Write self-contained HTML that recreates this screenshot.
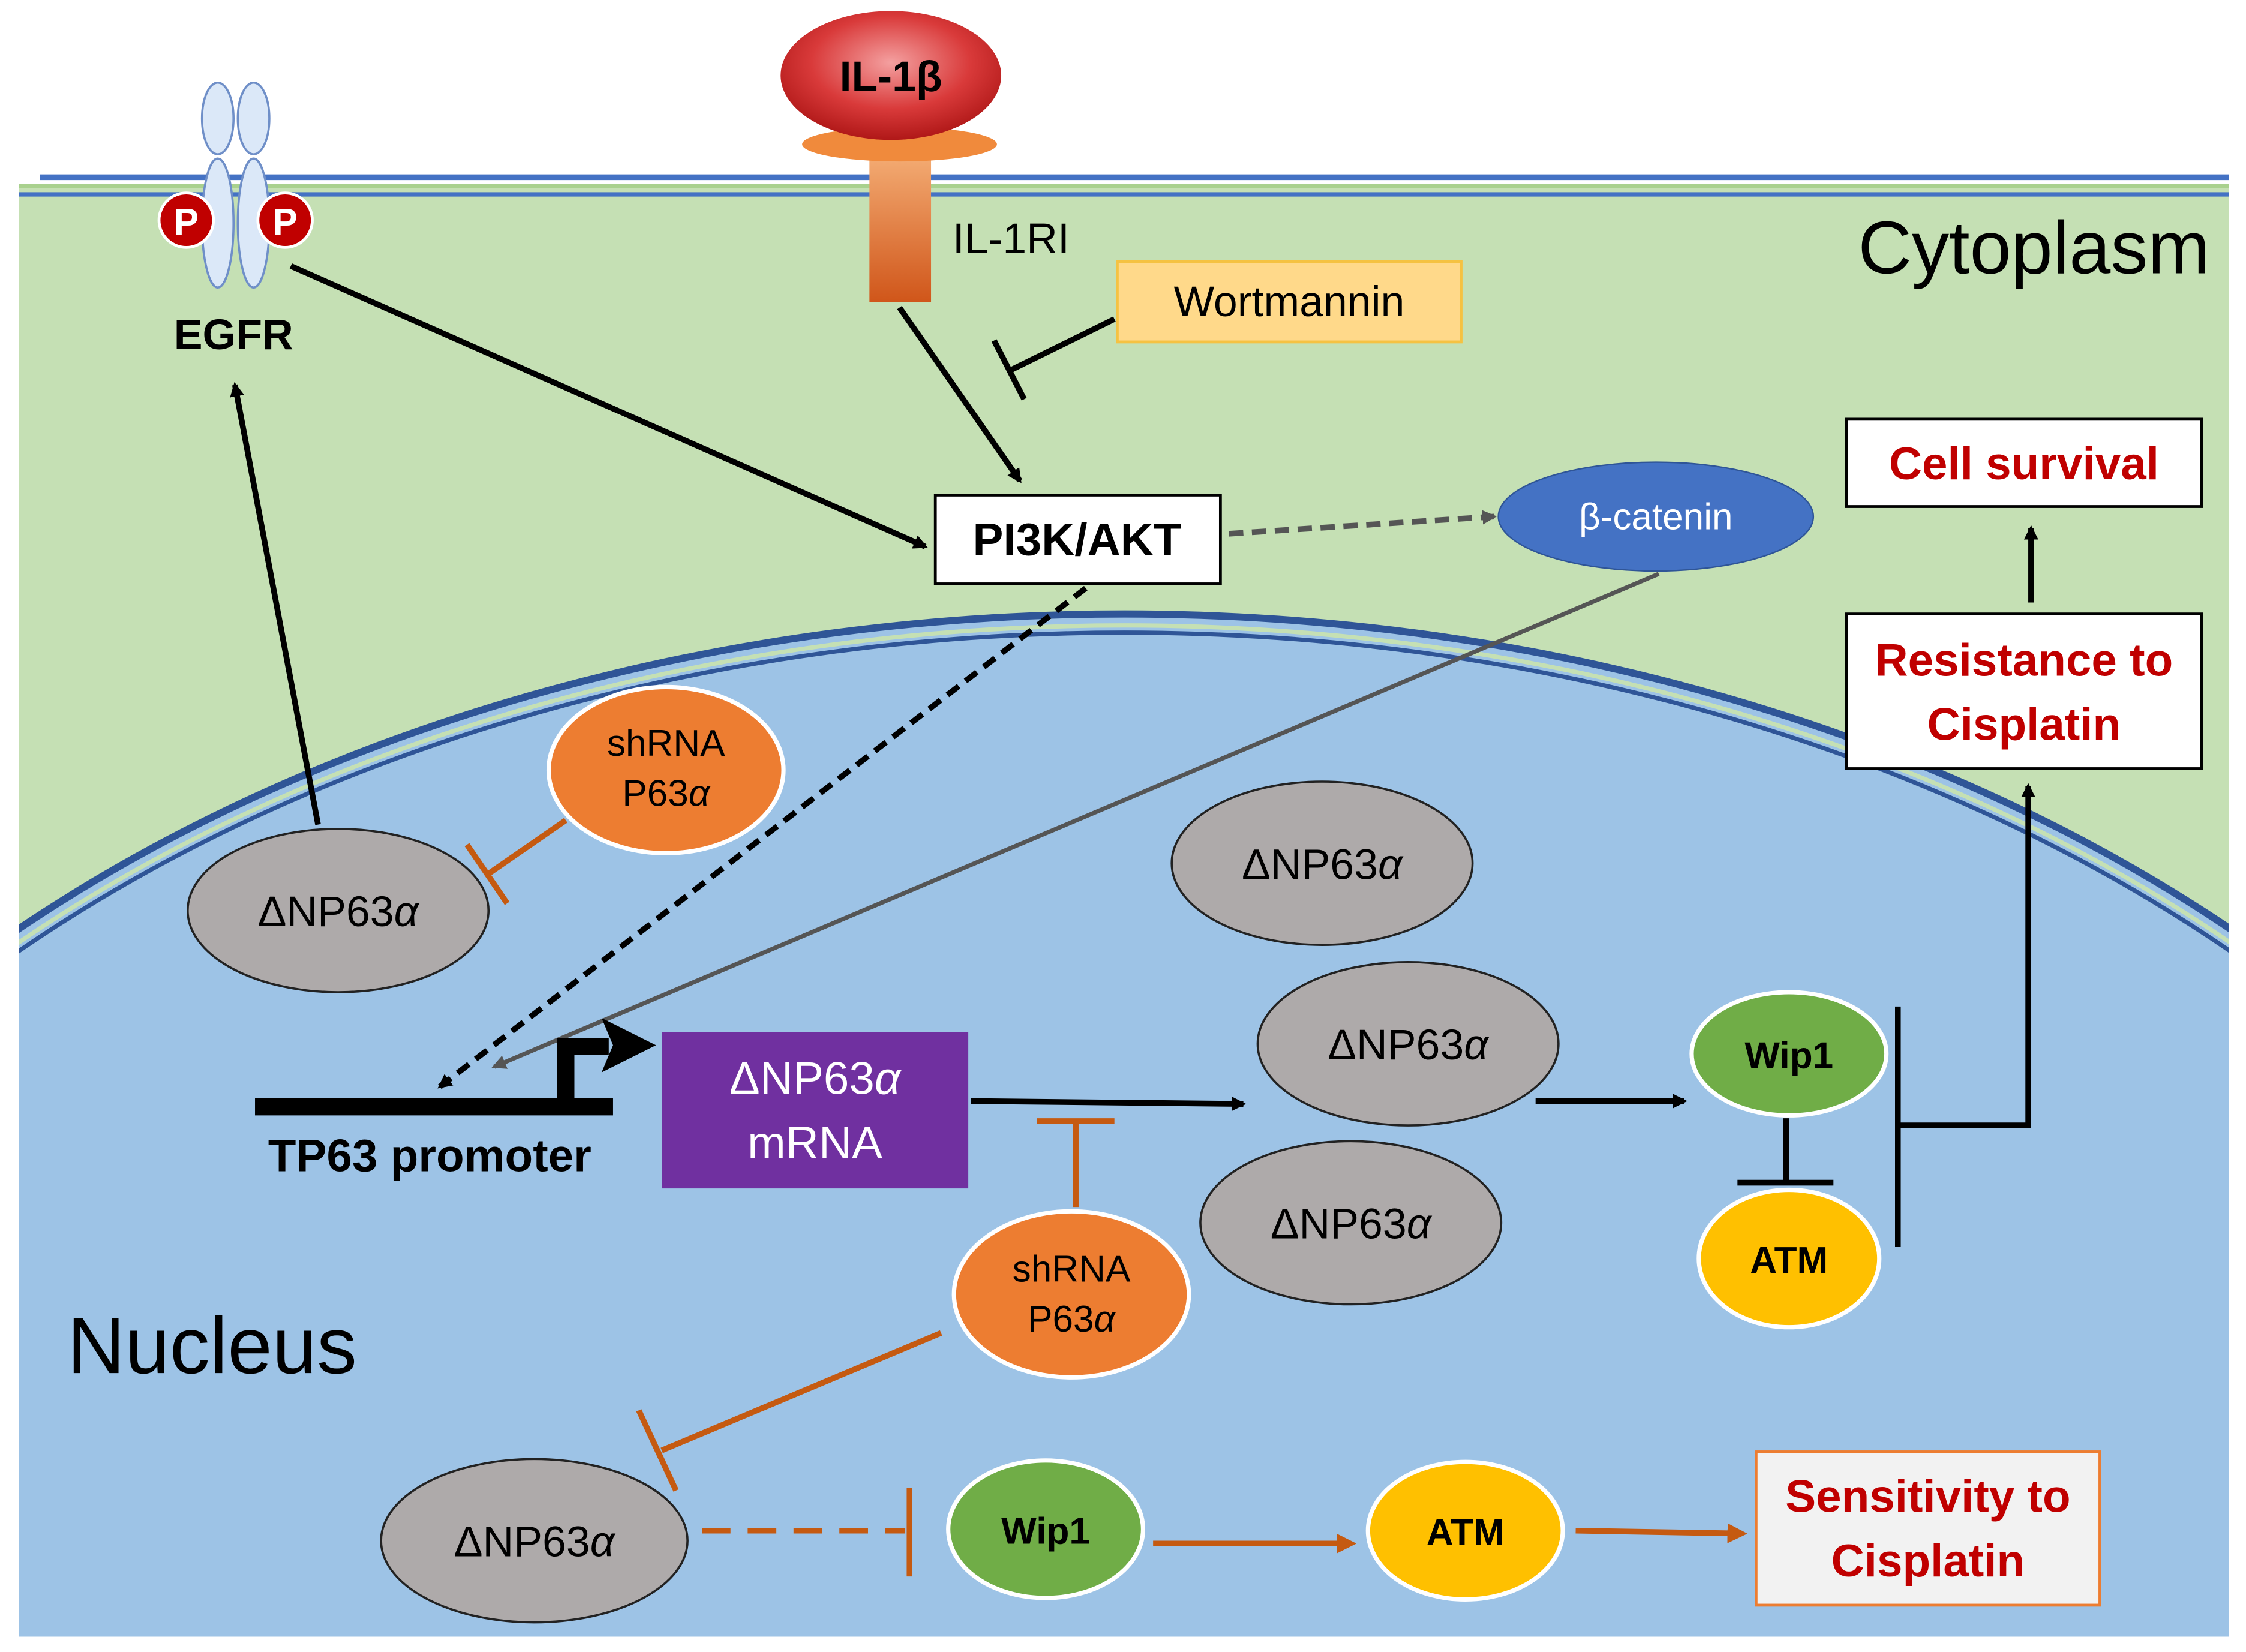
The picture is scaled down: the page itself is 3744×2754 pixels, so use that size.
<!DOCTYPE html>
<html><head><meta charset="utf-8"><style>html,body{margin:0;padding:0;background:#fff;width:3744px;height:2754px;overflow:hidden;position:relative}svg{display:block;position:absolute;left:0;top:0}text{font-family:"Liberation Sans",sans-serif}</style></head><body>
<svg width="3744" height="2754" viewBox="0 0 1568 1152" xmlns="http://www.w3.org/2000/svg">
<defs>
<radialGradient id="ilg" cx="50%" cy="40%" r="60%"><stop offset="0" stop-color="#f4a0a0"/><stop offset="0.6" stop-color="#d93a3a"/><stop offset="1" stop-color="#b01818"/></radialGradient>
<linearGradient id="stem" x1="0" y1="0" x2="0" y2="1"><stop offset="0" stop-color="#f6b27a"/><stop offset="1" stop-color="#d0561a"/></linearGradient>
<clipPath id="cl"><rect x="13" y="130" width="1543" height="1012"/></clipPath>
<marker id="ab" markerWidth="10" markerHeight="10" refX="8" refY="5" orient="auto" markerUnits="userSpaceOnUse" viewBox="0 0 10 10"><path d="M0,0 L10,5 L0,10 z" fill="#000"/></marker>
<marker id="ag" markerWidth="10" markerHeight="10" refX="8" refY="5" orient="auto" markerUnits="userSpaceOnUse" viewBox="0 0 10 10"><path d="M0,0 L10,5 L0,10 z" fill="#555"/></marker>
<marker id="ao" markerWidth="14" markerHeight="14" refX="10" refY="7" orient="auto" markerUnits="userSpaceOnUse" viewBox="0 0 14 14"><path d="M0,0 L14,7 L0,14 z" fill="#c55a11"/></marker>
</defs>
<rect x="13" y="130" width="1543" height="1012" fill="#c5e0b4"/>
<line x1="28" y1="123" x2="1556" y2="123" stroke="#4472c4" stroke-width="4"/>
<line x1="13" y1="129" x2="1556" y2="129" stroke="#a9d18e" stroke-width="3"/>
<line x1="13" y1="135" x2="1556" y2="135" stroke="#4472c4" stroke-width="3"/>
<g clip-path="url(#cl)">
<ellipse cx="785" cy="1243" rx="1130" ry="815" fill="#9dc3e6" stroke="#2f5597" stroke-width="5"/>
<ellipse cx="785" cy="1243" rx="1122" ry="807" fill="none" stroke="#c5e0b4" stroke-width="3"/>
<ellipse cx="785" cy="1243" rx="1117" ry="802" fill="none" stroke="#2f5597" stroke-width="3"/>
</g>
<g fill="#dbe8f8" stroke="#6f8fc8" stroke-width="1.5">
<ellipse cx="152" cy="82" rx="11" ry="25"/><ellipse cx="177" cy="82" rx="11" ry="25"/>
<ellipse cx="152" cy="155" rx="11" ry="45"/><ellipse cx="177" cy="155" rx="11" ry="45"/>
</g>
<circle cx="130" cy="153" r="19" fill="#c00000" stroke="#fff" stroke-width="2"/><text x="130" y="163" font-size="26" fill="#fff" text-anchor="middle" font-weight="bold">P</text>
<circle cx="199" cy="153" r="19" fill="#c00000" stroke="#fff" stroke-width="2"/><text x="199" y="163" font-size="26" fill="#fff" text-anchor="middle" font-weight="bold">P</text>
<text x="163" y="243" font-size="30" font-weight="bold" text-anchor="middle">EGFR</text>
<rect x="607" y="100" width="43" height="110" fill="url(#stem)"/>
<ellipse cx="628" cy="100" rx="68" ry="12" fill="#f08a3c"/>
<ellipse cx="622" cy="52" rx="77" ry="45" fill="url(#ilg)"/>
<text x="622" y="63" font-size="30" font-weight="bold" text-anchor="middle">IL-1β</text>
<text x="665" y="176" font-size="30">IL-1RI</text>
<text x="1420" y="190" font-size="52" text-anchor="middle">Cytoplasm</text>
<rect x="780" y="182" width="240" height="56" fill="#ffd98a" stroke="#f5c242" stroke-width="2"/>
<text x="900" y="220" font-size="30" text-anchor="middle">Wortmannin</text>
<line x1="778" y1="222" x2="705" y2="258" stroke="#000" stroke-width="4"/>
<line x1="694" y1="237" x2="715" y2="278" stroke="#000" stroke-width="4"/>
<line x1="628" y1="214" x2="712" y2="335" stroke="#000" stroke-width="4" marker-end="url(#ab)"/>
<line x1="203" y1="185" x2="646" y2="381" stroke="#000" stroke-width="4" marker-end="url(#ab)"/>
<rect x="653" y="345" width="199" height="62" fill="#fff" stroke="#000" stroke-width="2"/>
<text x="752" y="387" font-size="32" font-weight="bold" text-anchor="middle">PI3K/AKT</text>
<line x1="858" y1="372" x2="1043" y2="360" stroke="#555" stroke-width="4" stroke-dasharray="10,6" marker-end="url(#ag)"/>
<ellipse cx="1156" cy="360" rx="110" ry="38" fill="#4472c4" stroke="#2f5597"/>
<text x="1156" y="369" font-size="26" fill="#fff" text-anchor="middle">β-catenin</text>
<rect x="1289" y="292" width="248" height="61" fill="#fff" stroke="#000" stroke-width="2"/>
<text x="1413" y="334" font-size="32" font-weight="bold" fill="#c00000" text-anchor="middle">Cell survival</text>
<line x1="1418" y1="420" x2="1418" y2="368" stroke="#000" stroke-width="4" marker-end="url(#ab)"/>
<rect x="1289" y="428" width="248" height="108" fill="#fff" stroke="#000" stroke-width="2"/>
<text x="1413" y="471" font-size="32" font-weight="bold" fill="#c00000" text-anchor="middle">Resistance to</text>
<text x="1413" y="516" font-size="32" font-weight="bold" fill="#c00000" text-anchor="middle">Cisplatin</text>
<line x1="1158" y1="400" x2="345" y2="744" stroke="#555" stroke-width="3" marker-end="url(#ag)"/>
<line x1="758" y1="410" x2="307" y2="758" stroke="#000" stroke-width="4" stroke-dasharray="10,6" marker-end="url(#ab)"/>
<line x1="222" y1="575" x2="164" y2="268" stroke="#000" stroke-width="4" marker-end="url(#ab)"/>
<g fill="#aeaaaa" stroke="#222" stroke-width="1.5">
<ellipse cx="236" cy="635" rx="105" ry="57"/>
<ellipse cx="923" cy="602" rx="105" ry="57"/>
<ellipse cx="983" cy="728" rx="105" ry="57"/>
<ellipse cx="943" cy="853" rx="105" ry="57"/>
<ellipse cx="373" cy="1075" rx="107" ry="57"/>
</g>
<g font-size="30" text-anchor="middle">
<text x="236" y="646">ΔNP63<tspan font-style="italic">α</tspan></text>
<text x="923" y="613">ΔNP63<tspan font-style="italic">α</tspan></text>
<text x="983" y="739">ΔNP63<tspan font-style="italic">α</tspan></text>
<text x="943" y="864">ΔNP63<tspan font-style="italic">α</tspan></text>
<text x="373" y="1086">ΔNP63<tspan font-style="italic">α</tspan></text>
</g>
<line x1="395" y1="572" x2="340" y2="610" stroke="#c55a11" stroke-width="4"/>
<line x1="326" y1="589" x2="354" y2="630" stroke="#c55a11" stroke-width="4"/>
<ellipse cx="465" cy="537" rx="82" ry="58" fill="#ed7d31" stroke="#fff" stroke-width="3"/>
<text x="465" y="527" font-size="26" text-anchor="middle">shRNA</text>
<text x="465" y="562" font-size="26" text-anchor="middle">P63<tspan font-style="italic">α</tspan></text>
<line x1="178" y1="772" x2="428" y2="772" stroke="#000" stroke-width="12"/>
<path d="M395,770 L395,730 L425,730" fill="none" stroke="#000" stroke-width="12"/>
<polygon points="420,710 458,729 420,748 428,729" fill="#000"/>
<text x="300" y="817" font-size="32" font-weight="bold" text-anchor="middle">TP63 promoter</text>
<rect x="462" y="720" width="214" height="109" fill="#7030a0"/>
<text x="569" y="763" font-size="32" fill="#fff" text-anchor="middle">ΔNP63<tspan font-style="italic">α</tspan></text>
<text x="569" y="808" font-size="32" fill="#fff" text-anchor="middle">mRNA</text>
<line x1="678" y1="768" x2="868" y2="770" stroke="#000" stroke-width="4" marker-end="url(#ab)"/>
<line x1="751" y1="842" x2="751" y2="782" stroke="#c55a11" stroke-width="4"/>
<line x1="724" y1="782" x2="778" y2="782" stroke="#c55a11" stroke-width="4"/>
<line x1="1072" y1="768" x2="1176" y2="768" stroke="#000" stroke-width="4" marker-end="url(#ab)"/>
<ellipse cx="1249" cy="735" rx="68" ry="43" fill="#70ad47" stroke="#fff" stroke-width="3"/>
<text x="1249" y="745" font-size="26" font-weight="bold" text-anchor="middle">Wip1</text>
<ellipse cx="1249" cy="878" rx="63" ry="48" fill="#ffc000" stroke="#fff" stroke-width="3"/>
<text x="1249" y="888" font-size="26" font-weight="bold" text-anchor="middle">ATM</text>
<line x1="1247" y1="780" x2="1247" y2="825" stroke="#000" stroke-width="4"/>
<line x1="1213" y1="825" x2="1280" y2="825" stroke="#000" stroke-width="4"/>
<line x1="1325" y1="702" x2="1325" y2="870" stroke="#000" stroke-width="4"/>
<path d="M1325,785 L1416,785 L1416,548" fill="none" stroke="#000" stroke-width="4" marker-end="url(#ab)"/>
<ellipse cx="748" cy="903" rx="82" ry="58" fill="#ed7d31" stroke="#fff" stroke-width="3"/>
<text x="748" y="894" font-size="26" text-anchor="middle">shRNA</text>
<text x="748" y="929" font-size="26" text-anchor="middle">P63<tspan font-style="italic">α</tspan></text>
<text x="148" y="958" font-size="56" text-anchor="middle">Nucleus</text>
<line x1="657" y1="930" x2="462" y2="1012" stroke="#c55a11" stroke-width="4"/>
<line x1="446" y1="984" x2="472" y2="1040" stroke="#c55a11" stroke-width="4"/>
<line x1="490" y1="1068" x2="632" y2="1068" stroke="#c55a11" stroke-width="4" stroke-dasharray="20,12"/>
<line x1="635" y1="1038" x2="635" y2="1100" stroke="#c55a11" stroke-width="4"/>
<ellipse cx="730" cy="1067" rx="68" ry="48" fill="#70ad47" stroke="#fff" stroke-width="3"/>
<text x="730" y="1077" font-size="26" font-weight="bold" text-anchor="middle">Wip1</text>
<line x1="805" y1="1077" x2="943" y2="1077" stroke="#c55a11" stroke-width="4" marker-end="url(#ao)"/>
<ellipse cx="1023" cy="1068" rx="68" ry="48" fill="#ffc000" stroke="#fff" stroke-width="3"/>
<text x="1023" y="1078" font-size="26" font-weight="bold" text-anchor="middle">ATM</text>
<line x1="1100" y1="1068" x2="1216" y2="1070" stroke="#c55a11" stroke-width="4" marker-end="url(#ao)"/>
<rect x="1226" y="1013" width="240" height="107" fill="#f2f2f2" stroke="#ed7d31" stroke-width="2"/>
<text x="1346" y="1055" font-size="32" font-weight="bold" fill="#c00000" text-anchor="middle">Sensitivity to</text>
<text x="1346" y="1100" font-size="32" font-weight="bold" fill="#c00000" text-anchor="middle">Cisplatin</text>
</svg>
</body></html>
